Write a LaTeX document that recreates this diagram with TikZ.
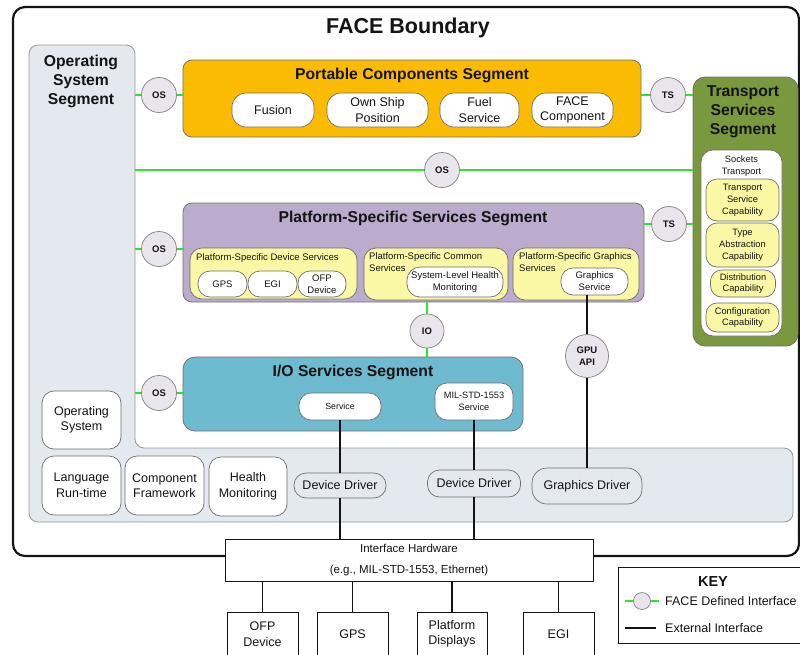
\documentclass[tikz,border=0pt]{standalone}
\usepackage{fontspec}
\setmainfont{Liberation Sans}
\newcommand\fsz[2]{\fontsize{#1}{#2}\selectfont}
\definecolor{osgray}{RGB}{228,233,239}
\definecolor{osline}{RGB}{150,150,150}
\definecolor{seggray}{RGB}{115,115,115}
\definecolor{boxgray}{RGB}{110,110,110}
\definecolor{pcsorange}{RGB}{250,187,0}
\definecolor{psspurple}{RGB}{187,171,205}
\definecolor{iosblue}{RGB}{110,186,206}
\definecolor{tssgreen}{RGB}{122,152,62}
\definecolor{capyellow}{RGB}{250,248,165}
\definecolor{circfill}{RGB}{232,230,236}
\definecolor{circline}{RGB}{130,130,130}
\definecolor{facegreen}{RGB}{50,225,50}
\definecolor{ink}{RGB}{20,20,20}
\begin{document}
\begin{tikzpicture}[x=1pt,y=-1pt,
  every node/.style={text=ink},
  sz/.style 2 args={minimum width=#1pt, minimum height=#2pt},
  seg/.style={draw=seggray, line width=0.8pt, rounded corners=9pt, inner sep=0pt},
  wbox/.style={draw=boxgray, fill=white, line width=0.7pt, rounded corners=12pt, align=center, inner sep=0pt},
  ybox/.style={draw=boxgray, fill=capyellow, line width=0.7pt, rounded corners=11pt, align=center, inner sep=0pt},
  gbox/.style={draw=boxgray, fill=osgray, line width=0.7pt, rounded corners=12pt, align=center, inner sep=0pt},
  sqbox/.style={draw=ink, fill=white, line width=1pt, align=center, inner sep=0pt},
  ifc/.style={circle, draw=circline, fill=circfill, line width=0.7pt, minimum size=35pt, inner sep=0pt, align=center, font=\fsz{9.5}{11}\bfseries},
  gline/.style={draw=facegreen, line width=2pt},
  xline/.style={draw=ink, line width=1.3pt},
  segtitle/.style={font=\fsz{15.7}{19}\bfseries, align=center, inner sep=0pt},
  lbl/.style={font=\fsz{9.5}{12}, align=left, anchor=north west, inner sep=0pt},
  t12/.style={font=\fsz{12.5}{15.5}},
  t9/.style={font=\fsz{9.3}{11.8}},
]
\clip (0,0) rectangle (800,654);
\fill[white] (0,0) rectangle (800,654);

% FACE boundary
\node[draw=ink, line width=2.2pt, rounded corners=12pt, sz={786}{549}] (bound) at (406,281.5) {};
\node[font=\fsz{21.5}{25}\bfseries, inner sep=0pt] (title) at (408,27.5) {FACE Boundary};

% Operating System Segment (L-shape)
\path[fill=osgray, draw=osline, line width=0.8pt, rounded corners=9pt]
  (29,300) -- (29,45) -- (135,45) -- (135,448) -- (793,448) -- (793,522) -- (29,522) -- cycle;
\coordinate (osE) at (135,0);
\node[segtitle, font=\fsz{15.7}{19}\bfseries] (ostitle) at (81,81.5) {Operating\\System\\Segment};
\node[wbox, t12, sz={79}{58}] (osbox) at (81.5,420) {Operating\\System};
\node[wbox, t12, sz={79}{59}] (langrt) at (81.5,485.5) {Language\\Run-time};
\node[wbox, t12, sz={79}{59}] (compfw) at (164.5,485.5) {Component\\Framework};
\node[wbox, t12, sz={78}{59}] (health) at (248,486.5) {Health\\Monitoring};
\node[gbox, t12, sz={92}{25}] (dd1) at (340,485.5) {Device Driver};
\node[gbox, t12, sz={93}{27}] (dd2) at (474,483.5) {Device Driver};
\node[gbox, t12, sz={110}{36}, rounded corners=15pt] (gfxdrv) at (587,486) {Graphics Driver};

% Portable Components Segment
\node[seg, fill=pcsorange, sz={458}{77}] (pcs) at (412,98.5) {};
\node[segtitle] (pcstitle) at (412,75.5) {Portable Components Segment};
\node[wbox, t12, sz={82}{34}, rounded corners=14pt] (fusion) at (273,110) {Fusion};
\node[wbox, t12, sz={101}{34}, rounded corners=14pt] (ownship) at (377.5,110) {Own Ship\\Position};
\node[wbox, t12, sz={79}{34}, rounded corners=14pt] (fuel) at (479.5,110) {Fuel\\Service};
\node[wbox, t12, sz={81}{34}, rounded corners=14pt] (facecomp) at (572.5,110) {FACE\\Component};

% Transport Services Segment
\node[seg, fill=tssgreen, sz={105}{269}, rounded corners=12pt] (tss) at (745.5,211.5) {};
\node[segtitle] (tsstitle) at (743,111.5) {Transport\\Services\\Segment};
\node[wbox, sz={81}{186}, rounded corners=12pt] (sockets) at (741.5,243) {};
\node[t9, align=center, inner sep=0pt] (socklbl) at (741.5,166) {Sockets\\Transport};
\node[ybox, t9, sz={73}{42}] (tsc) at (742.5,200) {Transport\\Service\\Capability};
\node[ybox, t9, sz={73}{44}] (tac) at (742.5,245) {Type\\Abstraction\\Capability};
\node[ybox, t9, sz={65}{27}] (dc) at (743,283.5) {Distribution\\Capability};
\node[ybox, t9, sz={73}{29}] (cc) at (742.5,317.5) {Configuration\\Capability};

% Platform-Specific Services Segment
\node[seg, fill=psspurple, sz={461}{99}] (pss) at (413.5,252.5) {};
\node[segtitle] (psstitle) at (413,218.5) {Platform-Specific Services Segment};
\node[ybox, sz={167}{51}, rounded corners=12pt] (psds) at (273.5,273.5) {};
\node[lbl] (psdslbl) at (196,253) {Platform-Specific Device Services};
\node[wbox, font=\fsz{9.5}{12}, sz={49}{26}] (gps1) at (222.5,284) {GPS};
\node[wbox, font=\fsz{9.5}{12}, sz={49}{26}] (egi1) at (272.5,284) {EGI};
\node[wbox, font=\fsz{9.5}{12}, sz={48}{26}] (ofp1) at (322,284) {OFP\\Device};
\node[ybox, sz={144}{52}, rounded corners=12pt] (pscs) at (436,274) {};
\node[lbl] (pscslbl) at (369,252) {Platform-Specific Common\\Services};
\node[wbox, font=\fsz{9.5}{12}, sz={96}{30}, rounded corners=13pt] (slhm) at (455,282) {System-Level Health\\Monitoring};
\node[ybox, sz={126}{52}, rounded corners=12pt] (psgs) at (576,274) {};
\node[lbl] (psgslbl) at (519,252) {Platform-Specific Graphics\\Services};
\node[wbox, font=\fsz{9.5}{12}, sz={67}{27}] (gfxsvc) at (594.5,281.5) {Graphics\\Service};

% I/O Services Segment
\node[seg, fill=iosblue, sz={340}{74}, rounded corners=12pt] (ioss) at (353,394) {};
\node[segtitle] (iosstitle) at (353,372.5) {I/O Services Segment};
\node[wbox, font=\fsz{8.8}{11}, sz={82}{27}] (svc) at (340,406.5) {Service};
\node[wbox, font=\fsz{9.2}{12}, sz={78}{37}] (mil) at (474,401.5) {MIL-STD-1553\\Service};

% Interface hardware and external devices
\node[sqbox, font=\fsz{11.5}{21}, sz={368}{42}] (ih) at (409,560) {Interface Hardware\\(e.g., MIL-STD-1553, Ethernet)};
\node[sqbox, t12, sz={71}{44}] (ofp2) at (262.5,634) {OFP\\Device};
\node[sqbox, t12, sz={71}{44}] (gps2) at (352.5,634) {GPS};
\node[sqbox, t12, sz={70}{44}] (pd) at (452,634) {Platform\\Displays};
\node[sqbox, t12, sz={71}{44}] (egi2) at (558.5,634) {EGI};

% External (black) connectors
\draw[xline] (svc.south) -- (dd1.north);
\draw[xline] (dd1.south) -- (dd1.south |- ih.north);
\draw[xline] (mil.south) -- (dd2.north);
\draw[xline] (dd2.south) -- (dd2.south |- ih.north);
\coordinate (gx) at (587,0);
\draw[xline] (gfxsvc.south -| gx) -- (gfxdrv.north);
\foreach \b in {ofp2,gps2,pd,egi2} {\draw[xline] (\b.north) -- (\b.north |- ih.south);}

% FACE defined interfaces
\node[ifc] (os1) at (159,95) {OS};
\node[ifc] (ts1) at (668,95) {TS};
\node[ifc] (os2) at (442,170) {OS};
\node[ifc] (os3) at (159,249) {OS};
\node[ifc] (ts2) at (669,224) {TS};
\node[ifc, minimum size=34pt] (io) at (427,331) {IO};
\node[ifc, minimum size=43pt, font=\fsz{9.5}{12}\bfseries] (gpu) at (587,356) {GPU\\API};
\node[ifc] (os4) at (159,393) {OS};

\draw[gline] (os1.west -| osE) -- (os1.west);
\draw[gline] (os1.east) -- (os1.east -| pcs.west);
\draw[gline] (ts1.west -| pcs.east) -- (ts1.west);
\draw[gline] (ts1.east) -- (ts1.east -| tss.west);
\draw[gline] (os2.west -| osE) -- (os2.west);
\draw[gline] (os2.east) -- (os2.east -| tss.west);
\draw[gline] (os3.west -| osE) -- (os3.west);
\draw[gline] (os3.east) -- (os3.east -| pss.west);
\draw[gline] (ts2.west -| pss.east) -- (ts2.west);
\draw[gline] (ts2.east) -- (ts2.east -| tss.west);
\draw[gline] (io.north |- pss.south) -- (io.north);
\draw[gline] (io.south) -- (io.south |- ioss.north);
\draw[gline] (os4.west -| osE) -- (os4.west);
\draw[gline] (os4.east) -- (os4.east -| ioss.west);

% Key
\node[sqbox, sz={187}{76}] (key) at (711.5,605) {};
\node[font=\fsz{14.5}{16}\bfseries, inner sep=0pt] (keytitle) at (713,582) {KEY};
\node[ifc, minimum size=17pt] (keyc) at (642,601) {};
\coordinate (kg1) at (625,601);
\coordinate (kg2) at (659,601);
\draw[gline, line width=1.6pt] (kg1) -- (keyc.west);
\draw[gline, line width=1.6pt] (keyc.east) -- (kg2);
\node[t12, anchor=west, inner sep=0pt] (keyf) at (665,601) {FACE Defined Interface};
\coordinate (kb1) at (625,628);
\coordinate (kb2) at (656,628);
\draw[xline, line width=1.1pt] (kb1) -- (kb2);
\node[t12, anchor=west, inner sep=0pt] (keye) at (665,628) {External Interface};
\end{tikzpicture}
\end{document}
